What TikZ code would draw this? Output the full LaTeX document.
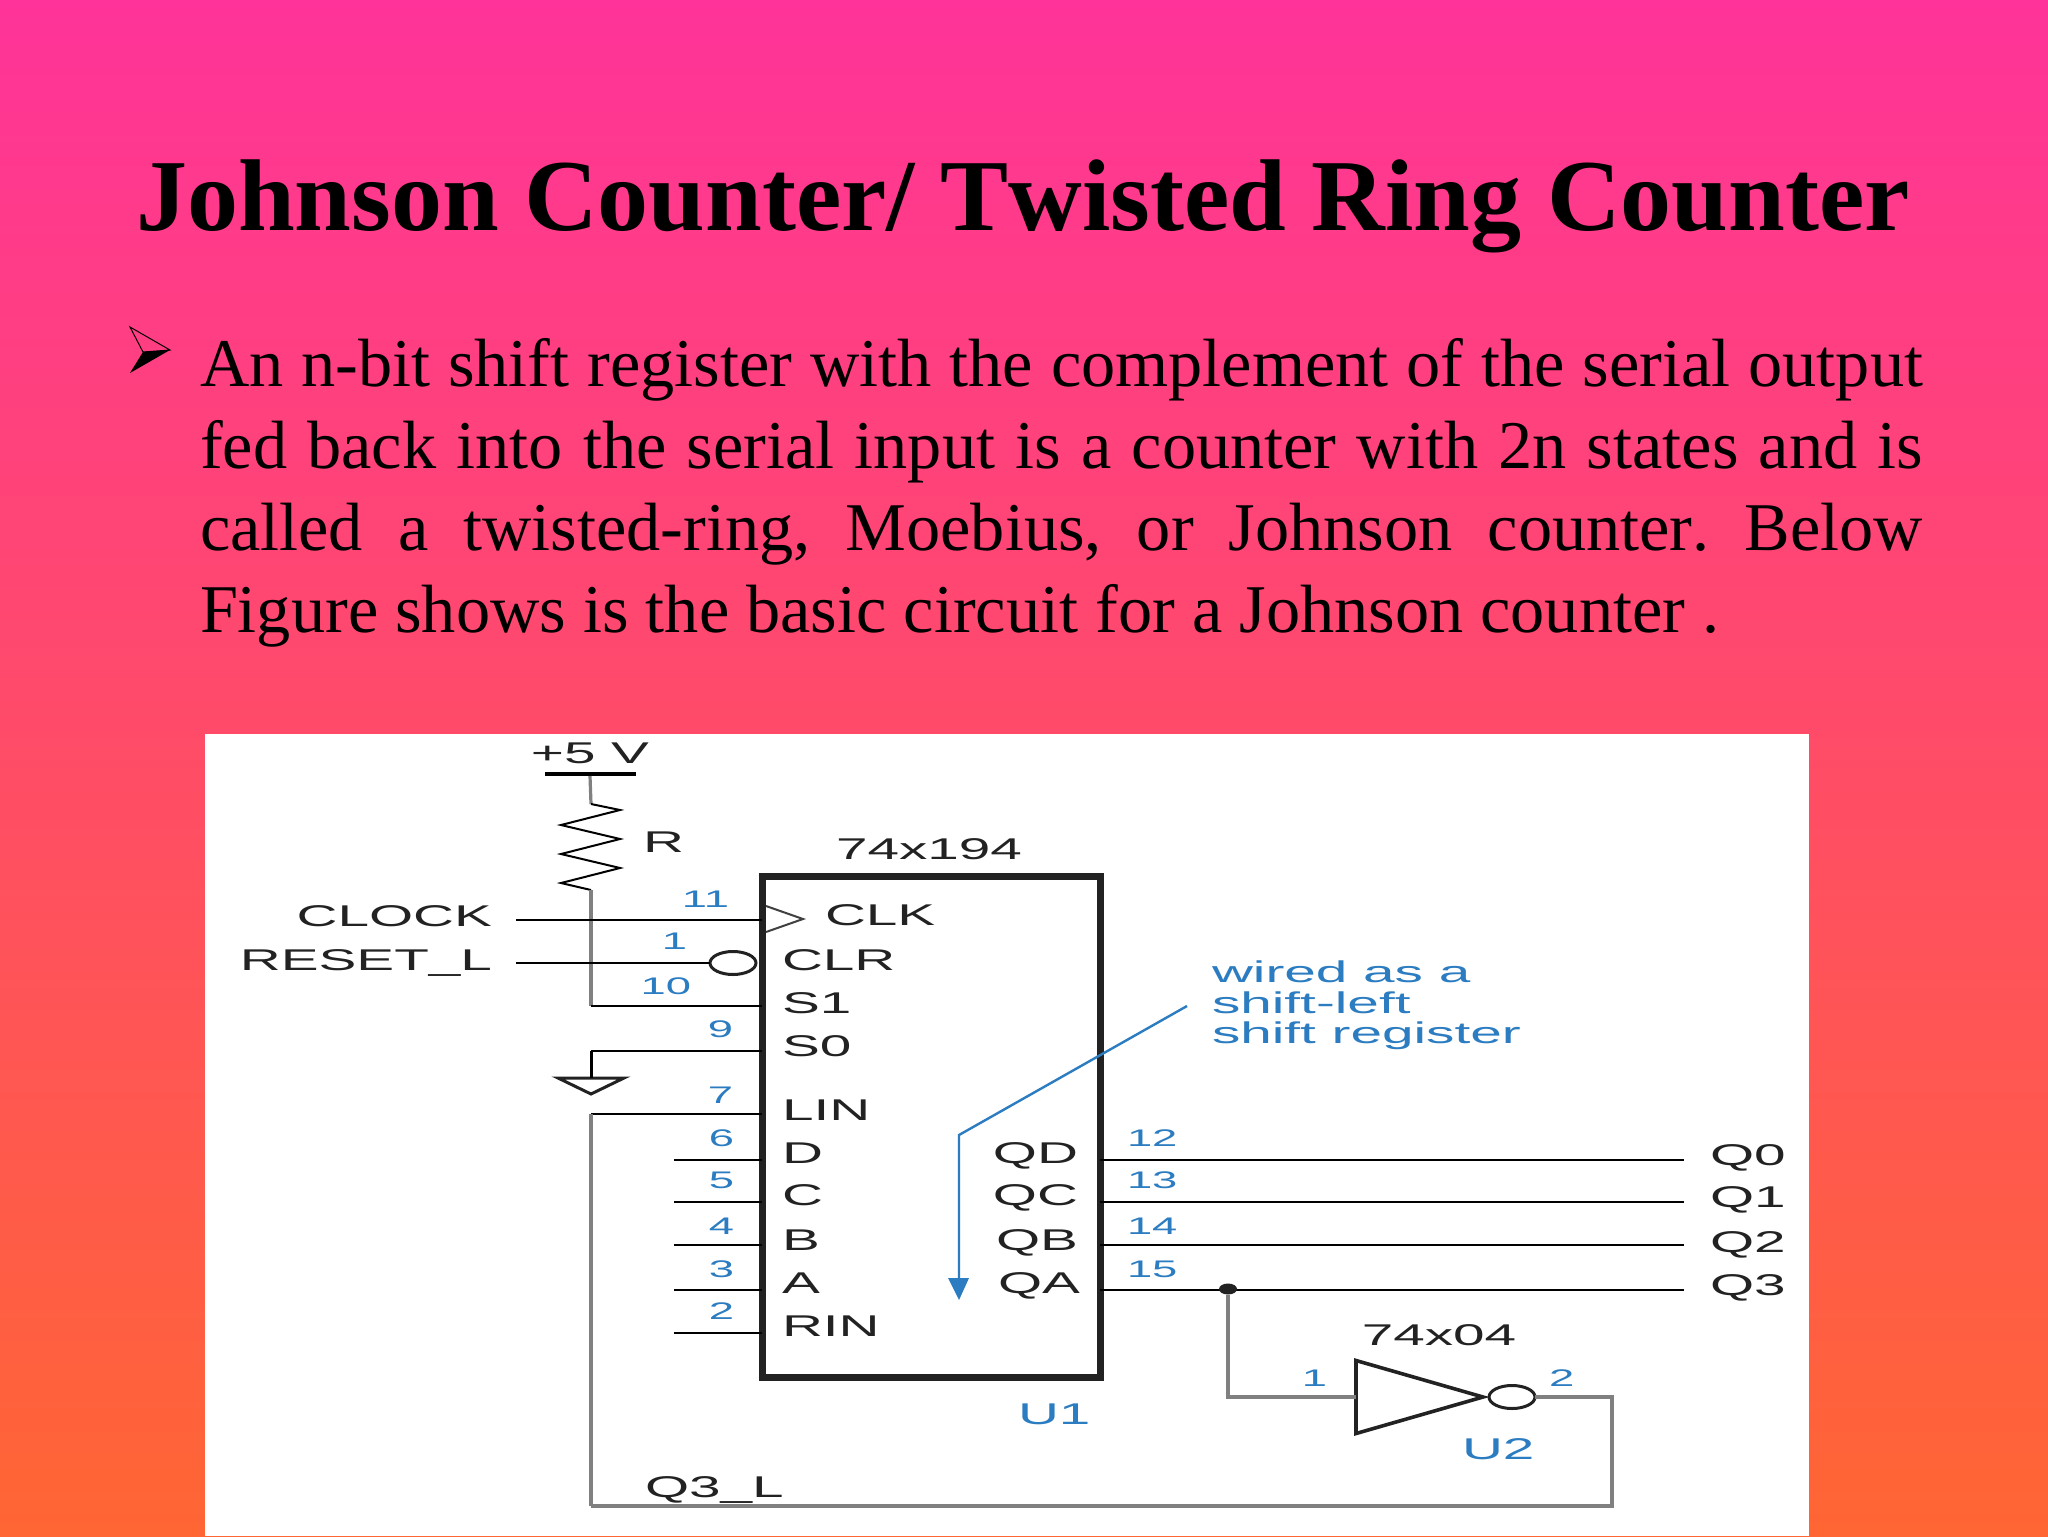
\documentclass[tikz,border=0pt]{standalone}
\usepackage{fontspec}
\setmainfont[Kerning=Off]{Liberation Serif}
\newfontfamily\schemfont[FakeStretch=1.89]{Liberation Sans}
\usepackage{tikz}
\usetikzlibrary{shapes.geometric}

\definecolor{slidetop}{HTML}{FF3399}
\definecolor{slidebot}{HTML}{FF6633}
\definecolor{pinblue}{HTML}{2B7CC0}
\definecolor{schemink}{HTML}{222222}

\begin{document}
\frenchspacing
\begin{tikzpicture}[x=0.5pt,y=-0.5pt,inner sep=0pt,outer sep=0pt]
	\tikzstyle{wire}=[draw=black, line width=1pt]
	\tikzstyle{graywire}=[draw=black!50, line width=1.6pt]
	\tikzstyle{lbl}=[text=schemink, font=\schemfont\fontsize{15}{18}\selectfont]
	\tikzstyle{pinno}=[text=pinblue, font=\schemfont\fontsize{12}{14}\selectfont]
	\tikzstyle{bluelbl}=[text=pinblue, font=\schemfont\fontsize{15}{18}\selectfont]
	\tikzstyle{bubble}=[ellipse, draw=schemink, line width=1.5pt, minimum width=23pt, minimum height=11.5pt]
	\tikzstyle{chip}=[rectangle, draw=schemink, line width=3.5pt, minimum width=169pt, minimum height=250.5pt]

	\useasboundingbox (0,0) rectangle (2048,1536);
	\shade[top color=slidetop, bottom color=slidebot] (0,0) rectangle (2048,1536);
	\fill[white] (205,734) rectangle (1809,1536);

	% heading and text
	\node[anchor=base west, font=\bfseries\fontsize{51}{60}\selectfont] (title) at (136,230) {Johnson Counter/ Twisted Ring Counter};
	\fill[black] (170,350) -- (143,352) -- (130,373) -- cycle;
	\draw[black, line width=0.5pt] (130,327) -- (170,350) -- (143,352) -- cycle;
	\node[anchor=north west, text width=861.5pt, align=justify, font=\fontsize{34.15}{41}\selectfont] (body) at (200,338)
		{An n-bit shift register with the complement of the serial output\linebreak
		fed back into the serial input is a counter with 2n states and is\linebreak
		called a twisted-ring, Moebius, or Johnson counter. Below\linebreak
		Figure shows is the basic circuit for a Johnson counter .};

	% the 74x194
	\node[chip] (U1) at (931,1126.5) {};
	\node[lbl, anchor=base] (U1type) at (929,859) {74x194};
	\node[bluelbl, anchor=base west] (U1name) at (1018,1424) {U1};
	\node[lbl, anchor=base west] (pCLK) at (825,925) {CLK};
	\node[lbl, anchor=base west] (pCLR) at (782,970) {CLR};
	\node[lbl, anchor=base west] (pS1) at (782,1013) {S1};
	\node[lbl, anchor=base west] (pS0) at (782,1056) {S0};
	\node[lbl, anchor=base west] (pLIN) at (782,1120) {LIN};
	\node[lbl, anchor=base west] (pD) at (782,1163) {D};
	\node[lbl, anchor=base west] (pC) at (782,1205) {C};
	\node[lbl, anchor=base west] (pB) at (782,1250) {B};
	\node[lbl, anchor=base west] (pA) at (782,1293) {A};
	\node[lbl, anchor=base west] (pRIN) at (782,1336) {RIN};
	\node[lbl, anchor=base east] (pQD) at (1078,1163) {QD};
	\node[lbl, anchor=base east] (pQC) at (1078,1205) {QC};
	\node[lbl, anchor=base east] (pQB) at (1078,1250) {QB};
	\node[lbl, anchor=base east] (pQA) at (1080,1293) {QA};

	% pin numbers
	\node[pinno, anchor=base east] (n11) at (729,907) {11};
	\node[pinno, anchor=base east] (n1) at (687,949) {1};
	\node[pinno, anchor=base east] (n10) at (691,994) {10};
	\node[pinno, anchor=base east] (n9) at (733,1037) {9};
	\node[pinno, anchor=base east] (n7) at (733,1103) {7};
	\node[pinno, anchor=base east] (n6) at (734,1146) {6};
	\node[pinno, anchor=base east] (n5) at (734,1188) {5};
	\node[pinno, anchor=base east] (n4) at (734,1234) {4};
	\node[pinno, anchor=base east] (n3) at (734,1277) {3};
	\node[pinno, anchor=base east] (n2) at (734,1319) {2};
	\node[pinno, anchor=base west] (n12) at (1127,1146) {12};
	\node[pinno, anchor=base west] (n13) at (1127,1188) {13};
	\node[pinno, anchor=base west] (n14) at (1127,1234) {14};
	\node[pinno, anchor=base west] (n15) at (1127,1277) {15};

	% left side
	\node[lbl, anchor=base] (vcclbl) at (590,763) {+5 V};
	\node[rectangle, fill=black, minimum width=45.5pt, minimum height=2pt] (vcc) at (590,774) {};
	\node[lbl, anchor=base west] (Rlbl) at (643,852) {R};
	\node[lbl, anchor=base east] (CLOCK) at (492,926) {CLOCK};
	\node[lbl, anchor=base east] (RESET) at (492,970) {RESET\_L};
	\node[lbl, anchor=base west] (Q3L) at (645,1497) {Q3\_L};
	\node[bubble] (clrbub) at (733,963) {};
	\node[isosceles triangle, isosceles triangle stretches, shape border rotate=-90, draw=schemink, line width=1.5pt, minimum width=33pt, minimum height=8pt, anchor=apex] (gnd) at (591,1094) {};

	\coordinate (clkin) at (516,920);
	\coordinate (rstin) at (516,963);
	\coordinate (rtop) at (591,804);
	\coordinate (rbot) at (591,890);
	\coordinate (sone) at (591,1006);
	\coordinate (szero) at (591,1051);
	\coordinate (lin) at (591,1114);
	\coordinate (fbcorner) at (591,1506);
	\coordinate (dend) at (674,1160);
	\coordinate (cend) at (674,1202);
	\coordinate (bend) at (674,1245);
	\coordinate (aend) at (674,1290);
	\coordinate (rinend) at (674,1333);

	\draw[graywire] (vcc.south) -- (rtop);
	\draw[wire] (rtop) -- (620,810) -- (561,825) -- (620,839) -- (561,854) -- (620,868) -- (561,883) -- (rbot);
	\draw[graywire] (rbot) -- (sone);
	\draw[wire] (clkin) -- (U1.west |- clkin);
	\draw[wire] (rstin) -- (clrbub.west);
	\draw[wire] (sone) -- (U1.west |- sone);
	\draw[wire] (szero) -- (U1.west |- szero);
	\draw[wire, line width=1.5pt] (szero) -- (gnd.lower side);
	\draw[wire] (lin) -- (U1.west |- lin);
	\draw[graywire] (lin) -- (fbcorner);
	\draw[wire] (dend) -- (U1.west |- dend);
	\draw[wire] (cend) -- (U1.west |- cend);
	\draw[wire] (bend) -- (U1.west |- bend);
	\draw[wire] (aend) -- (U1.west |- aend);
	\draw[wire] (rinend) -- (U1.west |- rinend);
	\draw[draw=black!75, line width=1pt] (766,906) -- (803,919) -- (766,932);

	% right side
	\node[lbl, anchor=base west] (Q0) at (1710,1165) {Q0};
	\node[lbl, anchor=base west] (Q1) at (1710,1207) {Q1};
	\node[lbl, anchor=base west] (Q2) at (1710,1252) {Q2};
	\node[lbl, anchor=base west] (Q3) at (1710,1295) {Q3};
	\coordinate (qdend) at (1684,1160);
	\coordinate (qcend) at (1684,1202);
	\coordinate (qbend) at (1684,1245);
	\coordinate (qaend) at (1684,1290);
	\draw[wire] (U1.east |- qdend) -- (qdend);
	\draw[wire] (U1.east |- qcend) -- (qcend);
	\draw[wire] (U1.east |- qbend) -- (qbend);
	\draw[wire] (U1.east |- qaend) -- (qaend);

	% the 74x04
	\node[lbl, anchor=base] (U2type) at (1439,1345) {74x04};
	\node[bluelbl, anchor=base west] (U2name) at (1462,1459) {U2};
	\node[pinno, anchor=base east] (inv1) at (1327,1386) {1};
	\node[pinno, anchor=base west] (inv2) at (1549,1386) {2};
	\node[isosceles triangle, isosceles triangle stretches, draw=schemink, line width=1.8pt, minimum width=36.5pt, minimum height=63.5pt, anchor=apex] (U2) at (1483,1397) {};
	\node[bubble] (U2bub) at (1512,1397) {};
	\node[ellipse, fill=schemink, minimum width=9pt, minimum height=5.5pt] (tap) at (1228,1289) {};
	\coordinate (invin) at (1228,1397);
	\coordinate (fbright) at (1612,1397);
	\coordinate (fbbot) at (1612,1506);

	\draw[graywire] (tap) -- (invin) -- (U2.lower side);
	\draw[graywire] (U2bub.east) -- (fbright) -- (fbbot) -- (fbcorner);

	% note
	\node[bluelbl, anchor=base west] (note1) at (1212,982) {wired as a};
	\node[bluelbl, anchor=base west] (note2) at (1212,1013) {shift-left};
	\node[bluelbl, anchor=base west] (note3) at (1212,1043) {shift register};
	\coordinate (notefrom) at (1187,1006);
	\coordinate (notebend) at (959,1135);
	\coordinate (noteto) at (959,1300);
	\draw[draw=pinblue, line width=1.2pt] (notefrom) -- (notebend) -- (959,1280);
	\fill[pinblue] (948,1278) -- (969,1278) -- (noteto) -- cycle;
\end{tikzpicture}
\end{document}
